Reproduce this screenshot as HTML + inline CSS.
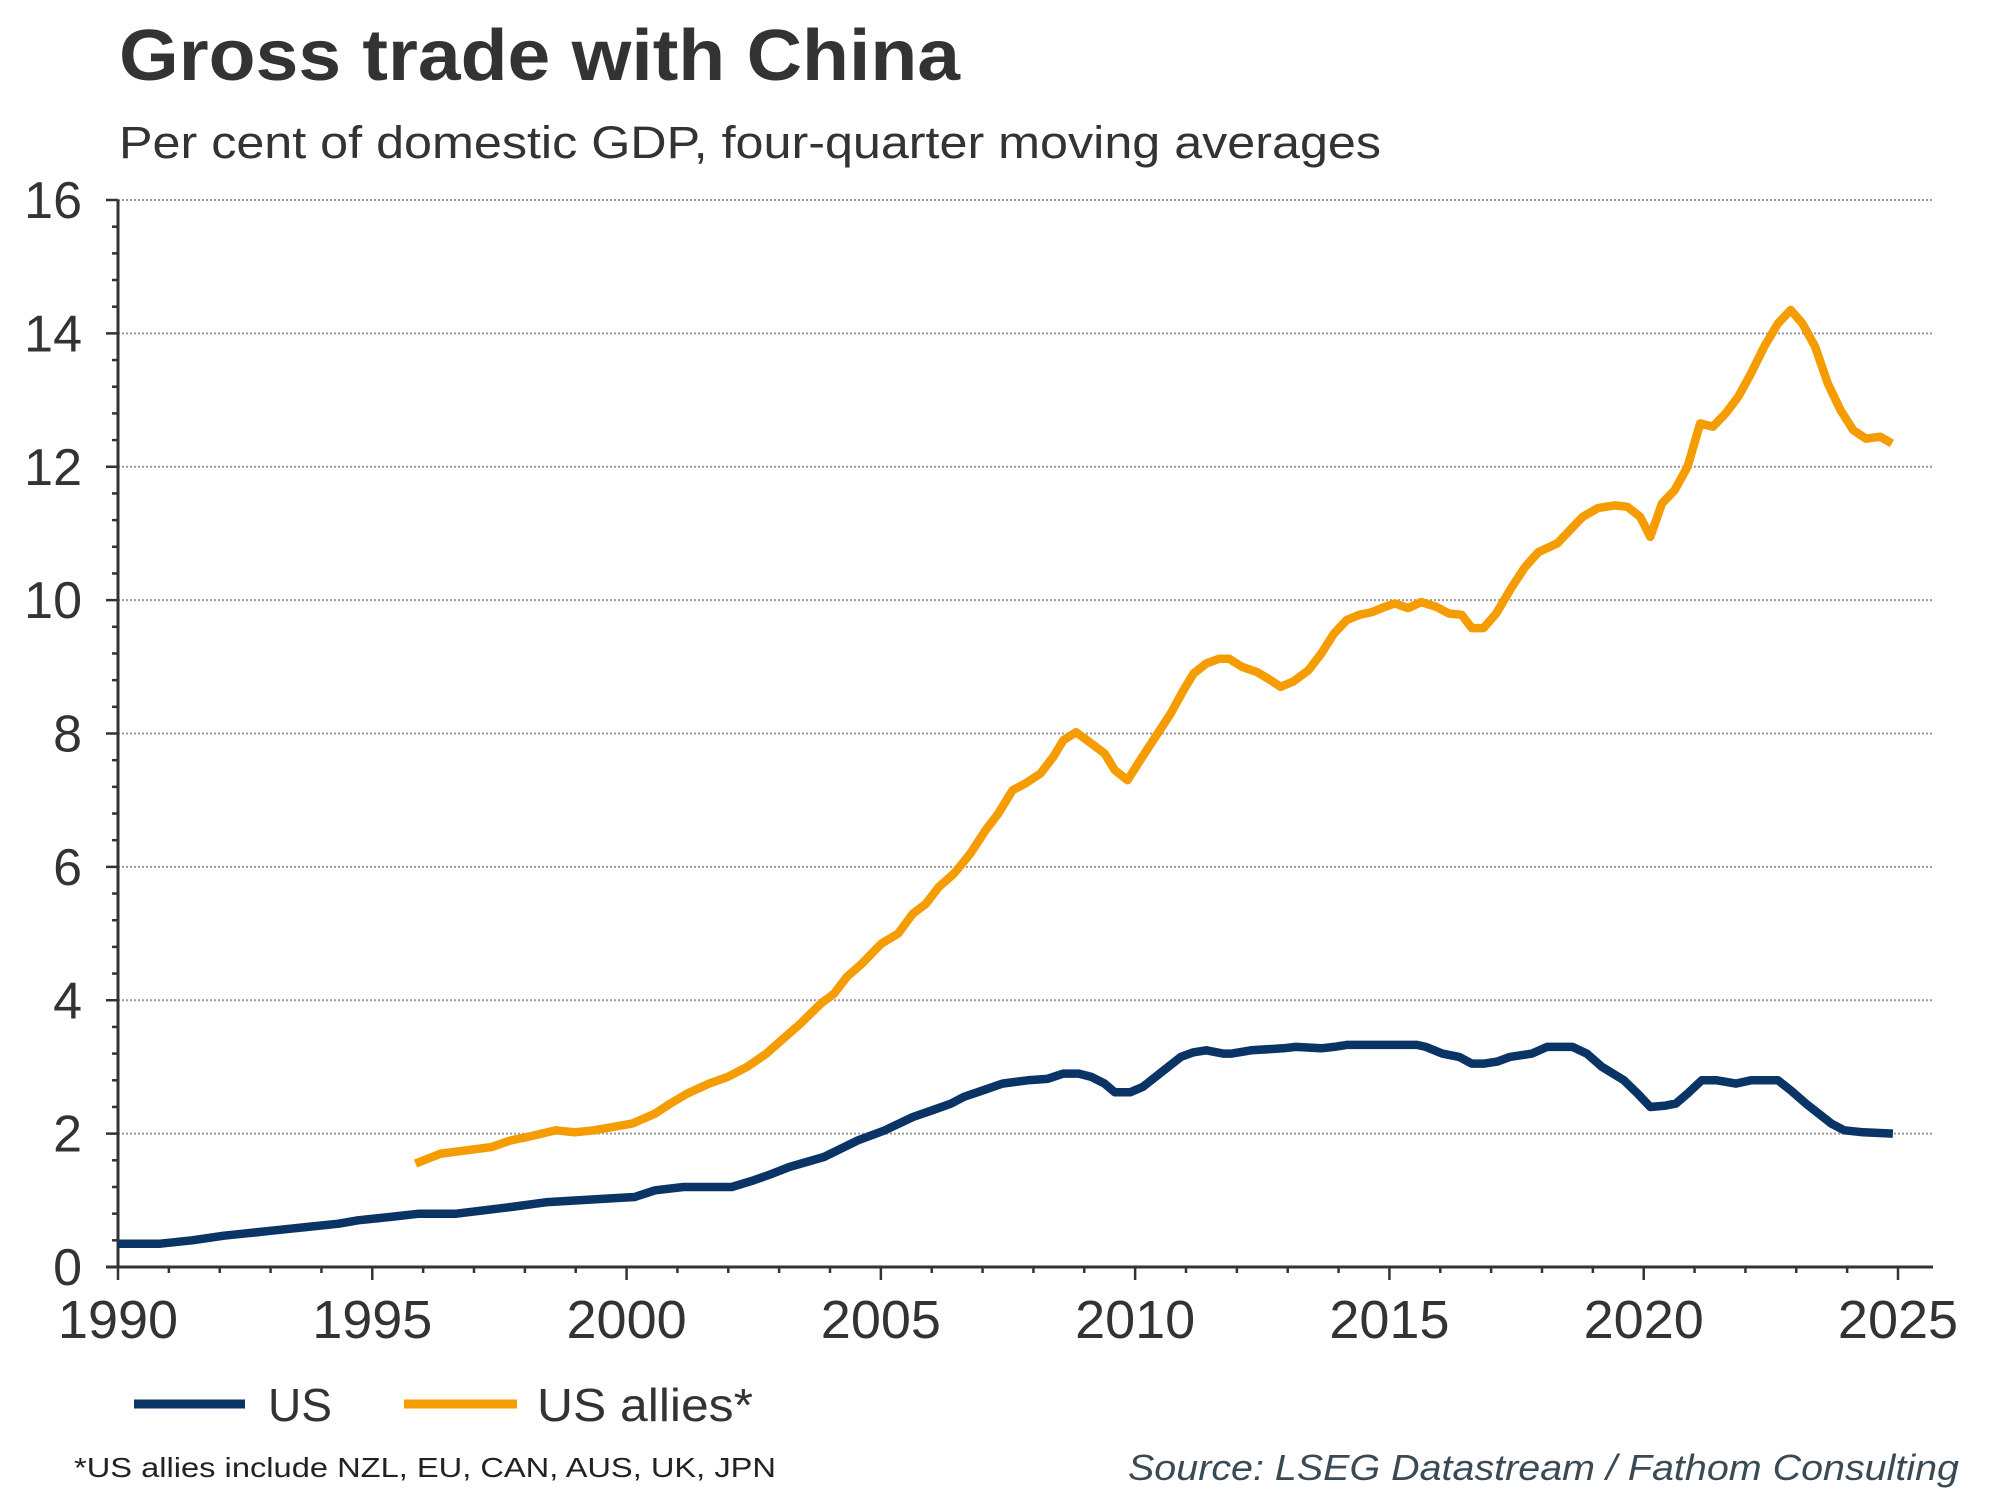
<!DOCTYPE html>
<html><head><meta charset="utf-8">
<style>
html,body{margin:0;padding:0;background:#fff;}
svg{display:block;font-family:"Liberation Sans",Arial,sans-serif;}
</style></head>
<body>
<svg id="chart" width="2000" height="1500" viewBox="0 0 2000 1500">
  <text x="119" y="80" font-size="72" font-weight="bold" fill="#333" textLength="841" lengthAdjust="spacingAndGlyphs">Gross trade with China</text>
  <text x="119" y="158" font-size="45" fill="#333" textLength="1262" lengthAdjust="spacingAndGlyphs">Per cent of domestic GDP, four-quarter moving averages</text>
  <g id="grid"></g>
  <g id="yaxis"></g>
  <g id="xaxis"></g>
  <g id="series"></g>
  <g>
    <g>
      <line x1="134" y1="1404" x2="245" y2="1404" stroke="#0b3466" stroke-width="9"/>
      <text x="268" y="1421" font-size="46" fill="#333" textLength="64" lengthAdjust="spacingAndGlyphs">US</text>
    </g>
    <g>
      <line x1="404" y1="1404" x2="517" y2="1404" stroke="#f59c00" stroke-width="9"/>
      <text x="537" y="1421" font-size="46" fill="#333" textLength="216" lengthAdjust="spacingAndGlyphs">US allies*</text>
    </g>
  </g>
  <text x="74" y="1477" font-size="28" fill="#222" textLength="702" lengthAdjust="spacingAndGlyphs">*US allies include NZL, EU, CAN, AUS, UK, JPN</text>
  <text x="1128" y="1480" font-size="36" font-style="italic" fill="#3a4a55" textLength="831" lengthAdjust="spacingAndGlyphs">Source: LSEG Datastream / Fathom Consulting</text>
</svg>
<script>
const yTicks = [0,2,4,6,8,10,12,14,16];
const xTicks = [1990,1995,2000,2005,2010,2015,2020,2025];
const usYears = [1990.00,1990.83,1991.46,1992.08,1992.46,1993.09,1993.71,1994.34,1994.72,1995.34,1995.92,1996.65,1997.73,1998.41,1999.48,2000.16,2000.56,2001.12,2002.07,2002.50,2002.87,2003.20,2003.88,2004.55,2005.08,2005.63,2006.01,2006.38,2006.63,2007.01,2007.39,2007.89,2008.27,2008.59,2008.89,2009.14,2009.40,2009.60,2009.90,2010.15,2010.40,2010.65,2010.90,2011.15,2011.40,2011.73,2011.90,2012.28,2012.91,2013.16,2013.66,2013.91,2014.16,2015.54,2015.72,2016.04,2016.37,2016.62,2016.87,2017.12,2017.37,2017.80,2018.10,2018.60,2018.88,2019.18,2019.61,2019.88,2020.13,2020.43,2020.63,2020.86,2021.14,2021.44,2021.81,2022.11,2022.64,2022.89,2023.19,2023.44,2023.69,2023.94,2024.32,2024.90];
const usValues = [0.35,0.35,0.40,0.47,0.50,0.55,0.60,0.65,0.70,0.75,0.80,0.80,0.90,0.97,1.02,1.05,1.15,1.20,1.20,1.30,1.40,1.50,1.65,1.90,2.05,2.25,2.35,2.45,2.55,2.65,2.75,2.80,2.82,2.90,2.90,2.85,2.75,2.62,2.62,2.70,2.85,3.00,3.15,3.22,3.25,3.20,3.20,3.25,3.28,3.30,3.28,3.30,3.33,3.33,3.30,3.20,3.15,3.05,3.05,3.08,3.15,3.20,3.30,3.30,3.20,3.00,2.80,2.60,2.40,2.42,2.45,2.60,2.80,2.80,2.75,2.80,2.80,2.65,2.45,2.30,2.15,2.05,2.02,2.00];
const alliesYears = [1995.85,1996.35,1996.85,1997.35,1997.73,1998.05,1998.61,1998.98,1999.36,1999.73,2000.11,2000.56,2000.86,2001.19,2001.62,2001.99,2002.37,2002.75,2003.12,2003.42,2003.82,2004.08,2004.33,2004.63,2005.01,2005.34,2005.63,2005.89,2006.14,2006.44,2006.76,2007.06,2007.31,2007.59,2007.84,2008.14,2008.39,2008.59,2008.84,2009.14,2009.40,2009.60,2009.85,2010.10,2010.40,2010.70,2010.95,2011.15,2011.40,2011.65,2011.85,2012.10,2012.40,2012.66,2012.86,2013.11,2013.41,2013.66,2013.91,2014.16,2014.41,2014.66,2014.91,2015.11,2015.37,2015.62,2015.92,2016.17,2016.42,2016.62,2016.85,2017.10,2017.41,2017.67,2017.93,2018.30,2018.55,2018.80,2019.10,2019.43,2019.68,2019.93,2020.13,2020.36,2020.61,2020.86,2021.11,2021.36,2021.61,2021.86,2022.11,2022.37,2022.64,2022.89,2023.12,2023.37,2023.62,2023.87,2024.12,2024.37,2024.65,2024.88];
const alliesValues = [1.55,1.70,1.75,1.80,1.90,1.95,2.05,2.02,2.05,2.10,2.15,2.30,2.45,2.60,2.75,2.85,3.00,3.20,3.45,3.65,3.95,4.10,4.35,4.55,4.85,5.00,5.30,5.45,5.70,5.90,6.20,6.55,6.80,7.15,7.25,7.40,7.65,7.90,8.02,7.85,7.70,7.45,7.30,7.60,7.95,8.30,8.65,8.90,9.05,9.12,9.12,9.00,8.92,8.80,8.70,8.78,8.95,9.20,9.50,9.70,9.78,9.82,9.90,9.95,9.88,9.97,9.90,9.80,9.78,9.58,9.58,9.80,10.20,10.50,10.72,10.85,11.05,11.25,11.38,11.42,11.40,11.25,10.95,11.45,11.65,12.00,12.65,12.60,12.80,13.05,13.40,13.80,14.15,14.35,14.15,13.80,13.25,12.85,12.55,12.42,12.45,12.35];

const NS = "http://www.w3.org/2000/svg";
const X0 = 118, X1 = 1898, Y0 = 1267, Y1 = 200;
function xs(yr){ return X0 + (yr - 1990) / 35 * (X1 - X0); }
function ys(v){ return Y0 - v / 16 * (Y0 - Y1); }
function mk(tag, attrs, parent){ const e = document.createElementNS(NS, tag); for (const k in attrs) e.setAttribute(k, attrs[k]); parent.appendChild(e); return e; }

const grid = document.getElementById('grid');
const yaxis = document.getElementById('yaxis');
const xaxis = document.getElementById('xaxis');
const series = document.getElementById('series');

yTicks.forEach(v => {
  if (v > 0) {
    const g = mk('line', {x1: X0, x2: 1933, y1: ys(v), y2: ys(v), stroke: '#999', 'stroke-width': 2, 'stroke-dasharray': '2,2'}, grid);
    
    
  }
  const t = mk('text', {x: 82, y: ys(v) + 18, 'font-size': 52, fill: '#333', 'text-anchor': 'end'}, yaxis);
  t.textContent = v;
  
  
});
for (let i = 0; i <= 40; i++) {
  const v = i * 0.4;
  const major = Math.abs(v / 2 - Math.round(v / 2)) < 1e-6;
  mk('line', {x1: major ? X0 - 12 : X0 - 6, x2: X0, y1: ys(v), y2: ys(v), stroke: '#333', 'stroke-width': 2.5}, yaxis);
}
mk('line', {x1: X0, x2: X0, y1: Y1, y2: Y0, stroke: '#333', 'stroke-width': 3}, yaxis);
mk('line', {x1: X0 - 12, x2: 1933, y1: Y0, y2: Y0, stroke: '#333', 'stroke-width': 3}, xaxis);
for (let yr = 1990; yr <= 2025; yr++) {
  const major = (yr % 5 === 0);
  mk('line', {x1: xs(yr), x2: xs(yr), y1: Y0, y2: Y0 + (major ? 13 : 6), stroke: '#333', 'stroke-width': 2.5}, xaxis);
}
xTicks.forEach(yr => {
  const t = mk('text', {x: xs(yr), y: 1338, 'font-size': 54, fill: '#333', 'text-anchor': 'middle'}, xaxis);
  t.textContent = yr;
  
  
});

function line(years, vals, color, name){
  const d = years.map((y, i) => (i ? 'L' : 'M') + xs(y).toFixed(1) + ',' + ys(vals[i]).toFixed(1)).join(' ');
  const p = mk('path', {d: d, fill: 'none', stroke: color, 'stroke-width': 8.5, 'stroke-linejoin': 'round'}, series);
  
  
}
line(usYears, usValues, '#0b3466', 'us-line');
line(alliesYears, alliesValues, '#f59c00', 'us-allies-line');
</script>
</body></html>
